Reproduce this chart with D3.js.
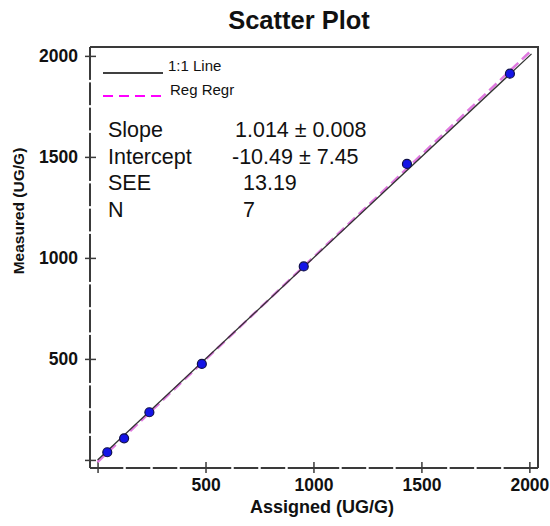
<!DOCTYPE html>
<html>
<head>
<meta charset="utf-8">
<script src="https://cdn.jsdelivr.net/npm/d3@7"></script>
<style>
  body { margin: 0; background: #fff; }
  text { font-family: Arial, "Liberation Sans", sans-serif; fill: #111; }
</style>
</head>
<body>
<div id="container"></div>
<script>
// DATA

const assigned = [45, 123, 240, 483, 955, 1433, 1910]
const measured = [38, 107, 236, 475, 958, 1465, 1912]
const majorTicks = [500, 1000, 1500, 2000]
const minorTicks = [125, 250, 375, 625, 750, 875, 1125, 1250, 1375, 1625, 1750, 1875]
const slope = 1.014, intercept = -10.49
const lineRange = [0, 2010]
const statLabels = ["Slope", "Intercept", "SEE", "N"]
const statValues = ["1.014 \u00b1 0.008", "-10.49 \u00b1 7.45", "13.19", "7"]
const statOffsets = [0, -3, 8, 8]
const legendLabels = ["1:1 Line", "Reg Regr"]

// VARIABLES

const width = 550,
      height = 526,
      frame = {left: 90, right: 538, top: 47, bottom: 468}

// SCALES

const xScale = d3.scaleLinear()
    .domain([-35, 2040])
    .range([frame.left, frame.right])

const yScale = d3.scaleLinear()
    .domain([-40, 2044])
    .range([frame.bottom, frame.top])

// ELEMENTS

const svg = d3.select("#container")
    .append("svg")
    .attr("width", width)
    .attr("height", height)

svg.append("text")
    .attr("x", 299)
    .attr("y", 29)
    .attr("text-anchor", "middle")
    .attr("font-size", 25.5)
    .attr("font-weight", "bold")
    .text("Scatter Plot")

// frame top/right
svg.append("path")
    .attr("d", `M${frame.left},${frame.top}H${frame.right}V${frame.bottom}`)
    .attr("fill", "none")
    .attr("stroke", "#3a3a3a")
    .attr("stroke-width", 2)

// axes
const xAxis = d3.axisBottom(xScale)
    .tickValues([0, ...majorTicks])
    .tickSizeInner(5)
    .tickSizeOuter(0)
    .tickPadding(6)
    .tickFormat(d => d === 0 ? "" : d)

const yAxis = d3.axisLeft(yScale)
    .tickValues([0, ...majorTicks])
    .tickSizeInner(5)
    .tickSizeOuter(0)
    .tickPadding(7)
    .tickFormat(d => d === 0 ? "" : d)

const gx = svg.append("g")
    .attr("transform", `translate(0,${frame.bottom})`)
    .call(xAxis)

const gy = svg.append("g")
    .attr("transform", `translate(${frame.left},0)`)
    .call(yAxis)

gx.select(".domain").attr("d", `M${frame.left},0H${frame.right}`)
gy.select(".domain").attr("d", `M0,${frame.top}V${frame.bottom}`)

;[gx, gy].forEach(g => {
  g.select(".domain").attr("stroke", "#3a3a3a").attr("stroke-width", 2)
  g.selectAll(".tick line").attr("stroke", "#3a3a3a").attr("stroke-width", 1.5)
  g.selectAll(".tick text")
    .attr("font-size", 17.5)
    .attr("font-weight", "bold")
    .attr("fill", "#111")
    .attr("font-family", "Arial, 'Liberation Sans', sans-serif")
})
gx.selectAll(".tick line").attr("y1", -6)
gy.selectAll(".tick line").attr("x1", 6)

// white gaps along the axis lines (minor tick marks)
svg.append("g").selectAll("line")
    .data(minorTicks)
    .join("line")
    .attr("x1", d => xScale(d)).attr("x2", d => xScale(d))
    .attr("y1", frame.bottom - 2).attr("y2", frame.bottom + 2)
    .attr("stroke", "#fff").attr("stroke-width", 2.5)

svg.append("g").selectAll("line")
    .data(minorTicks)
    .join("line")
    .attr("y1", d => yScale(d)).attr("y2", d => yScale(d))
    .attr("x1", frame.left - 2).attr("x2", frame.left + 2)
    .attr("stroke", "#fff").attr("stroke-width", 2.5)

// axis titles
svg.append("text")
    .attr("x", 322)
    .attr("y", 513)
    .attr("text-anchor", "middle")
    .attr("font-size", 18)
    .attr("font-weight", "bold")
    .text("Assigned (UG/G)")

svg.append("text")
    .attr("transform", "translate(24,211) rotate(-90)")
    .attr("text-anchor", "middle")
    .attr("font-size", 15.5)
    .attr("font-weight", "bold")
    .text("Measured (UG/G)")

// LINES

const line = d3.line()
    .x(d => xScale(d[0]))
    .y(d => yScale(d[1]))

svg.append("path")
    .datum(lineRange.map(x => [x, slope * x + intercept]))
    .attr("d", line)
    .attr("fill", "none")
    .attr("stroke", "#e07ae0")
    .attr("stroke-width", 2.5)
    .attr("stroke-dasharray", "10,5")

svg.append("path")
    .datum(lineRange.map(x => [x, x]))
    .attr("d", line)
    .attr("fill", "none")
    .attr("stroke", "#333")
    .attr("stroke-width", 1.3)

// SELECT-JOIN-DRAW

svg.selectAll("circle")
    .data(assigned.map((a, i) => ({x: a, y: measured[i]})))
    .join("circle")
    .attr("cx", d => xScale(d.x))
    .attr("cy", d => yScale(d.y))
    .attr("r", 4.5)
    .attr("fill", "#1414e6")
    .attr("stroke", "#10104a")
    .attr("stroke-width", 1.2)

// LEGEND

const legend = svg.append("g")
legend.append("line")
    .attr("x1", 103).attr("x2", 163).attr("y1", 73).attr("y2", 73)
    .attr("stroke", "#000").attr("stroke-width", 1.3)
legend.append("line")
    .attr("x1", 103).attr("x2", 163).attr("y1", 96).attr("y2", 96)
    .attr("stroke", "#ff00ff").attr("stroke-width", 2)
    .attr("stroke-dasharray", "10,6")
legend.selectAll("text")
    .data(legendLabels)
    .join("text")
    .attr("x", (d, i) => i === 0 ? 168 : 170)
    .attr("y", (d, i) => 71 + i * 24)
    .attr("font-size", 15)
    .text(d => d)

// STATS

const stats = svg.append("g")
stats.selectAll(".lab")
    .data(statLabels)
    .join("text")
    .attr("class", "lab")
    .attr("x", 108)
    .attr("y", (d, i) => 137 + i * 26.5)
    .attr("font-size", 21.5)
    .text(d => d)

stats.selectAll(".val")
    .data(statValues)
    .join("text")
    .attr("class", "val")
    .attr("x", (d, i) => 235 + statOffsets[i])
    .attr("y", (d, i) => 137 + i * 26.5)
    .attr("font-size", 21.5)
    .text(d => d)
</script>
</body>
</html>
